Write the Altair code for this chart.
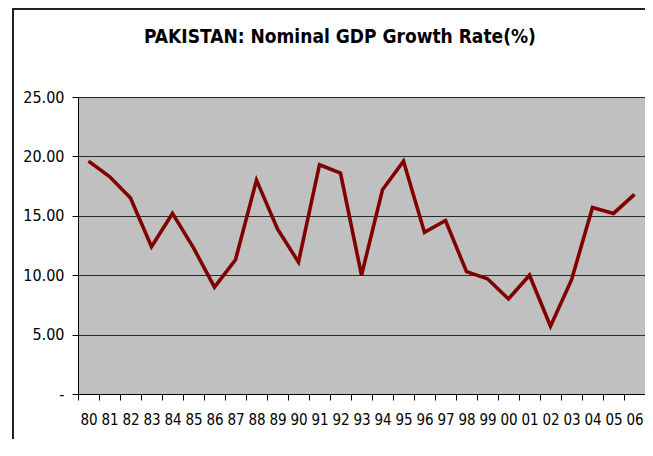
import altair as alt
import pandas as pd

years = ["80","81","82","83","84","85","86","87","88","89","90","91","92","93",
         "94","95","96","97","98","99","00","01","02","03","04","05","06"]
growth = [19.6, 18.3, 16.5, 12.4, 15.2, 12.3, 9.0, 11.3, 18.0, 13.9, 11.1, 19.3,
          18.6, 10.0, 17.2, 19.6, 13.6, 14.6, 10.3, 9.7, 8.0, 10.0, 5.7, 9.6,
          15.7, 15.2, 16.8]
y_ticks = [0, 5, 10, 15, 20, 25]
title_text = ["PAKISTAN: Nominal GDP Growth Rate(%)"]

df = pd.DataFrame({"year": years, "growth": growth})
df_title = pd.DataFrame({"t": title_text})

FONT = "DejaVu Sans Condensed, Liberation Sans Narrow, sans-serif"
W, H = 567, 297

line = alt.Chart(df).mark_line(color="#800000", strokeWidth=3.6).encode(
    x=alt.X("year:N", sort=years, title=None,
            scale=alt.Scale(paddingInner=0, paddingOuter=0),
            axis=alt.Axis(labelAngle=0, labelFont=FONT, labelFontSize=15,
                          labelColor="#000", labelPadding=12, tickBand="extent",
                          tickSize=6, tickColor="#000", domainColor="#000",
                          domainWidth=1, grid=False)),
    y=alt.Y("growth:Q", title=None,
            scale=alt.Scale(domain=[0, 25], nice=False),
            axis=alt.Axis(values=y_ticks, labelFont=FONT, labelFontSize=16,
                          labelColor="#000", labelPadding=8, tickSize=6,
                          tickColor="#000", domainColor="#000",
                          labelExpr="datum.value == 0 ? '-' : format(datum.value, '.2f')",
                          grid=True, gridColor="#2a2a2a", gridWidth=1.2,
                          gridOpacity=1)),
)

frame_left = alt.Chart(df_title).mark_rule(color="#222", strokeWidth=2).encode(
    x=alt.value(-65), y=alt.value(-89), y2=alt.value(H + 60))
frame_top = alt.Chart(df_title).mark_rule(color="#222", strokeWidth=2).encode(
    x=alt.value(-65), x2=alt.value(W), y=alt.value(-88))
title = alt.Chart(df_title).mark_text(
    font=FONT, fontSize=19, fontWeight="bold", color="#000",
    align="center", baseline="middle").encode(
    text="t:N", x=alt.value(262), y=alt.value(-60))

chart = alt.layer(frame_left, frame_top, title, line).properties(
    width=W, height=H,
    autosize=alt.AutoSizeParams(type="none"),
    padding={"left": 70, "top": 89, "right": 0, "bottom": 45},
).configure(background="white").configure_view(
    fill="#c0c0c0", stroke="transparent")

chart.save("out.html", embed_options={"renderer": "svg", "actions": False})
